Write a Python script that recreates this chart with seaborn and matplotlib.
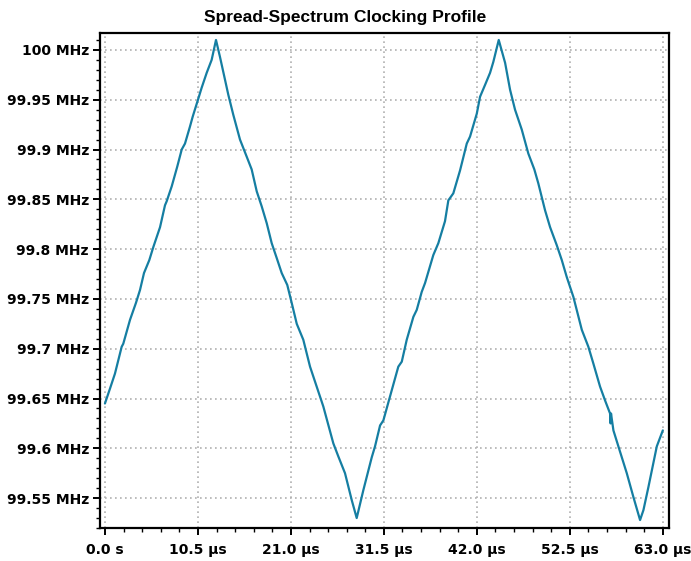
import matplotlib
matplotlib.use("Agg")
import matplotlib.pyplot as plt
from matplotlib.ticker import MultipleLocator, FuncFormatter
import pandas as pd
import seaborn as sns

# Measured instantaneous clock frequency over two modulation periods
time_us = [
    0.0, 0.57, 1.13, 1.89, 2.07, 2.83, 3.50, 3.96, 4.41, 5.01, 5.46, 5.84, 6.22,
    6.78, 6.97, 7.54, 8.17, 8.67, 9.04, 9.60, 9.91, 10.54, 10.92, 11.49, 12.05,
    12.54,
    12.99, 13.56, 13.93, 14.49, 15.25, 16.00, 16.57, 17.14, 17.70, 18.27, 18.83,
    19.40, 19.96, 20.59, 21.09, 21.66, 22.40, 23.16, 23.91, 24.66, 25.79, 26.35,
    27.11, 27.87, 28.43,
    29.18, 30.13, 30.50, 31.07, 31.44, 32.19, 33.13, 33.52, 34.08, 34.83, 35.21,
    35.77, 36.15, 37.08, 37.65, 38.40, 38.78, 39.34, 40.10, 40.86, 41.23, 41.99,
    42.36, 42.93, 43.49, 43.86, 44.47,
    45.19, 45.75, 46.31, 47.07, 47.81, 48.49, 48.94, 49.70, 50.27, 51.02, 51.59,
    52.15, 52.90, 53.85, 54.59, 55.16, 55.91, 56.48, 57.04, 57.10, 57.15, 57.42,
    57.98, 58.93, 59.68, 60.43,
    60.81, 61.37, 62.32, 63.0,
]
freq_mhz = [
    99.645, 99.660, 99.675, 99.702, 99.705, 99.729, 99.746, 99.759, 99.776,
    99.789, 99.802, 99.812, 99.822, 99.844, 99.848, 99.863, 99.883, 99.900,
    99.906, 99.923, 99.933, 99.951, 99.962, 99.977, 99.990, 100.010,
    99.993, 99.970, 99.955, 99.935, 99.910, 99.893, 99.880, 99.858, 99.843,
    99.826, 99.806, 99.791, 99.776, 99.764, 99.746, 99.725, 99.709, 99.682,
    99.662, 99.642, 99.605, 99.592, 99.575, 99.548, 99.530,
    99.558, 99.591, 99.602, 99.623, 99.628, 99.652, 99.682, 99.687, 99.709,
    99.732, 99.739, 99.757, 99.766, 99.794, 99.806, 99.828, 99.849, 99.856,
    99.879, 99.906, 99.913, 99.936, 99.953, 99.965, 99.977, 99.988, 100.010,
    99.987, 99.960, 99.940, 99.920, 99.896, 99.880, 99.866, 99.839, 99.822,
    99.804, 99.789, 99.772, 99.752, 99.719, 99.702, 99.685, 99.662, 99.648,
    99.635, 99.625, 99.635, 99.618, 99.602, 99.575, 99.551, 99.528,
    99.538, 99.561, 99.602, 99.618,
]

x_major_step = 10.5
y_major_step = 0.05
title_text = "Spread-Spectrum Clocking Profile"

df = pd.DataFrame({"time": time_us, "freq": freq_mhz})

sns.set_style("white")
plt.rcParams["font.family"] = ["DejaVu Sans"]
plt.rcParams["text.color"] = "black"
plt.rcParams["xtick.color"] = "black"
plt.rcParams["ytick.color"] = "black"
plt.rcParams["xtick.labelcolor"] = "black"
plt.rcParams["ytick.labelcolor"] = "black"

fig = plt.figure(figsize=(6.91, 5.61), dpi=100)
ax = fig.add_axes([0.1447, 0.0588, 0.8235, 0.8824])

sns.lineplot(data=df, x="time", y="freq", ax=ax, color="#157ea2",
             linewidth=1.6, sort=False, zorder=3)

ax.set_xlim(-0.56, 63.7)
ax.set_ylim(99.520, 100.017)

ax.xaxis.set_major_locator(MultipleLocator(x_major_step))
ax.xaxis.set_minor_locator(MultipleLocator(x_major_step / 5))
ax.yaxis.set_major_locator(MultipleLocator(y_major_step))
ax.yaxis.set_minor_locator(MultipleLocator(y_major_step / 5))


def fmt_time(v, pos):
    if abs(v) < 1e-9:
        return "0.0 s"
    return f"{v:.1f} \u00b5s"


def fmt_freq(v, pos):
    return f"{round(v, 2):g} MHz"


ax.xaxis.set_major_formatter(FuncFormatter(fmt_time))
ax.yaxis.set_major_formatter(FuncFormatter(fmt_freq))

ax.set_xlabel("")
ax.set_ylabel("")

ax.grid(True, which="major", color="#b0b0b0", linestyle=(0, (1, 2)),
        linewidth=1.2, zorder=0)

for side in ["left", "right", "top", "bottom"]:
    ax.spines[side].set_visible(True)
    ax.spines[side].set_color("black")
    ax.spines[side].set_linewidth(1.6)

ax.tick_params(axis="both", which="major", direction="out", length=5,
               width=1.4, color="black", labelcolor="black", labelsize=10,
               pad=3, bottom=True, left=True, top=False, right=False)
ax.tick_params(axis="both", which="minor", direction="out", length=3,
               width=1.0, color="black", bottom=True, left=True,
               top=False, right=False)
ax.tick_params(axis="x", which="major", pad=6)
for lbl in ax.get_xticklabels() + ax.get_yticklabels():
    lbl.set_fontweight("bold")
    lbl.set_color("black")

fig.suptitle(title_text, x=0.5, y=0.982, fontsize=12.5, fontweight="bold",
             color="black", family=["Liberation Sans", "DejaVu Sans"],
             va="top")

fig.savefig("out.png", dpi=100, facecolor="white")
